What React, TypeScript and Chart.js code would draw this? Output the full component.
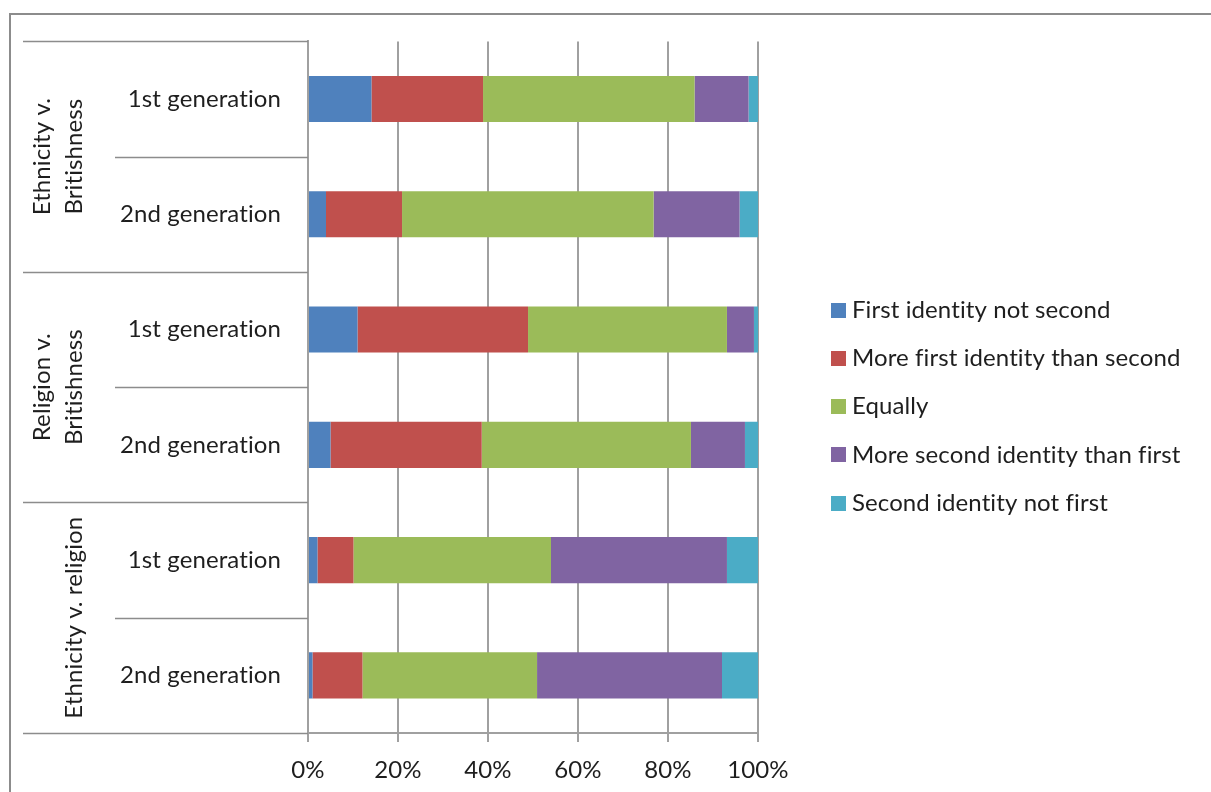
import React, { useEffect, useRef } from "react";
import { Chart, registerables } from "chart.js";

Chart.register(...registerables);

// ---- data ----
const rowLabels = [
  "1st generation",
  "2nd generation",
  "1st generation",
  "2nd generation",
  "1st generation",
  "2nd generation",
];
const groupLabels: string[][] = [
  ["Ethnicity v.", "Britishness"],
  ["Religion v.", "Britishness"],
  ["Ethnicity v. religion"],
];
const groupSizes = [2, 2, 2];
const seriesNames = [
  "First identity not second",
  "More first identity than second",
  "Equally",
  "More second identity than first",
  "Second identity not first",
];
const firstNotSecond = [14.1, 4.0, 11.0, 5.0, 2.1, 1.0];
const moreFirst = [24.8, 16.9, 37.9, 33.6, 8.0, 11.1];
const equally = [47.0, 55.9, 44.2, 46.5, 43.9, 38.8];
const moreSecond = [12.0, 19.1, 6.0, 12.0, 39.1, 41.1];
const secondNotFirst = [2.1, 4.1, 0.9, 2.9, 6.9, 8.0];
const xTicks = [0, 20, 40, 60, 80, 100];

const seriesValues = [firstNotSecond, moreFirst, equally, moreSecond, secondNotFirst];
const seriesColors = ["#4F81BD", "#C0504D", "#9BBB59", "#8064A2", "#4BACC6"];

const FONT = "Lato, 'Open Sans', sans-serif";
const FONT_SIZE = 24;
const TEXT = "#1e1e1e";
const GRID = "#a0a0a0";
const SEP = "#8c8c8c";

const noLigaturePlugin = {
  id: "noLigature",
  beforeDraw(chart: any) {
    const ctx = chart.ctx as any;
    try {
      ctx.letterSpacing = "0.1px";
      ctx.textRendering = "optimizeSpeed";
    } catch (e) {
      /* ignore */
    }
  },
};

const multiLevelPlugin = {
  id: "multiLevel",
  afterDraw(chart: any) {
    const ctx = chart.ctx;
    const y = chart.scales.y;
    const n = rowLabels.length;
    const boundary = (i: number) =>
      i === 0
        ? y.top
        : i === n
        ? y.bottom
        : (y.getPixelForValue(i - 1) + y.getPixelForValue(i)) / 2;
    const right = y.right;
    ctx.save();
    try {
      ctx.letterSpacing = "0.1px";
      ctx.textRendering = "optimizeSpeed";
    } catch (e) {
      /* ignore */
    }
    ctx.strokeStyle = SEP;
    ctx.lineWidth = 1.5;
    let idx = 0;
    const groupStarts: number[] = [0];
    groupSizes.forEach((s) => {
      idx += s;
      groupStarts.push(idx);
    });
    for (let i = 0; i <= n; i++) {
      const py = Math.round(boundary(i)) + 0.5;
      const isGroup = groupStarts.includes(i);
      ctx.beginPath();
      ctx.moveTo(isGroup ? 23 : 115, py);
      ctx.lineTo(right, py);
      ctx.stroke();
    }
    // group labels (rotated)
    ctx.fillStyle = TEXT;
    ctx.font = `${FONT_SIZE}px ${FONT}`;
    ctx.textAlign = "center";
    ctx.textBaseline = "middle";
    groupLabels.forEach((lines, g) => {
      const top = boundary(groupStarts[g]);
      const bottom = boundary(groupStarts[g + 1]);
      const cy = (top + bottom) / 2;
      const lastX = 74;
      lines.forEach((line, li) => {
        const x = lastX - (lines.length - 1 - li) * 32;
        ctx.save();
        ctx.translate(x, cy);
        ctx.rotate(-Math.PI / 2);
        ctx.fillText(line, 0, 0);
        ctx.restore();
      });
    });
    // legend
    chart.data.datasets.forEach((ds: any, i: number) => {
      const cy = 310 + i * 48.3;
      ctx.fillStyle = ds.backgroundColor;
      ctx.fillRect(831, Math.round(cy - 7.5), 15, 15);
      ctx.fillStyle = TEXT;
      ctx.textAlign = "left";
      ctx.textBaseline = "middle";
      ctx.fillText(ds.label, 852, cy);
    });
    ctx.restore();
  },
};

export default function App() {
  const ref = useRef<HTMLCanvasElement | null>(null);
  useEffect(() => {
    if (!ref.current) return;
    const chart = new Chart(ref.current, {
      type: "bar",
      data: {
        labels: rowLabels,
        datasets: seriesNames.map((name, i) => ({
          label: name,
          data: seriesValues[i],
          backgroundColor: seriesColors[i],
          borderWidth: 0,
          barPercentage: 0.4,
          categoryPercentage: 1,
        })),
      },
      options: {
        indexAxis: "y",
        animation: false,
        responsive: false,
        layout: { padding: { top: 41, right: 453, bottom: 0, left: 0 } },
        plugins: { legend: { display: false }, tooltip: { enabled: false } },
        scales: {
          x: {
            type: "linear",
            stacked: true,
            min: 0,
            max: 100,
            afterBuildTicks: (s: any) => {
              s.ticks = xTicks.map((v) => ({ value: v }));
            },
            afterFit: (s: any) => {
              s.height = 59;
            },
            grid: { color: GRID, lineWidth: 2, tickLength: 9, drawTicks: true },
            border: { display: true, color: GRID, width: 2 },
            ticks: {
              color: TEXT,
              font: { family: FONT, size: FONT_SIZE },
              padding: 14,
              callback: (v: any) => `${v}%`,
            },
          },
          y: {
            type: "category",
            stacked: true,
            afterFit: (s: any) => {
              s.width = 308;
            },
            grid: { display: false, drawTicks: false },
            border: { display: true, color: GRID, width: 2 },
            ticks: {
              color: TEXT,
              font: { family: FONT, size: FONT_SIZE },
              padding: 27,
              crossAlign: "near",
            },
          },
        },
      },
      plugins: [noLigaturePlugin, multiLevelPlugin],
    } as any);
    return () => chart.destroy();
  }, []);

  return (
    <div
      style={{
        position: "fixed",
        left: 0,
        top: 0,
        width: 1211,
        height: 792,
        background: "#fff",
        overflow: "hidden",
      }}
    >
      <canvas ref={ref} width={1211} height={792} style={{ position: "absolute", left: 0, top: 0 }} />
      <div
        style={{
          position: "absolute",
          left: 9,
          top: 13,
          width: 1400,
          height: 1000,
          borderLeft: "2px solid #8c8c8c",
          borderTop: "2px solid #8c8c8c",
          pointerEvents: "none",
        }}
      />
    </div>
  );
}
